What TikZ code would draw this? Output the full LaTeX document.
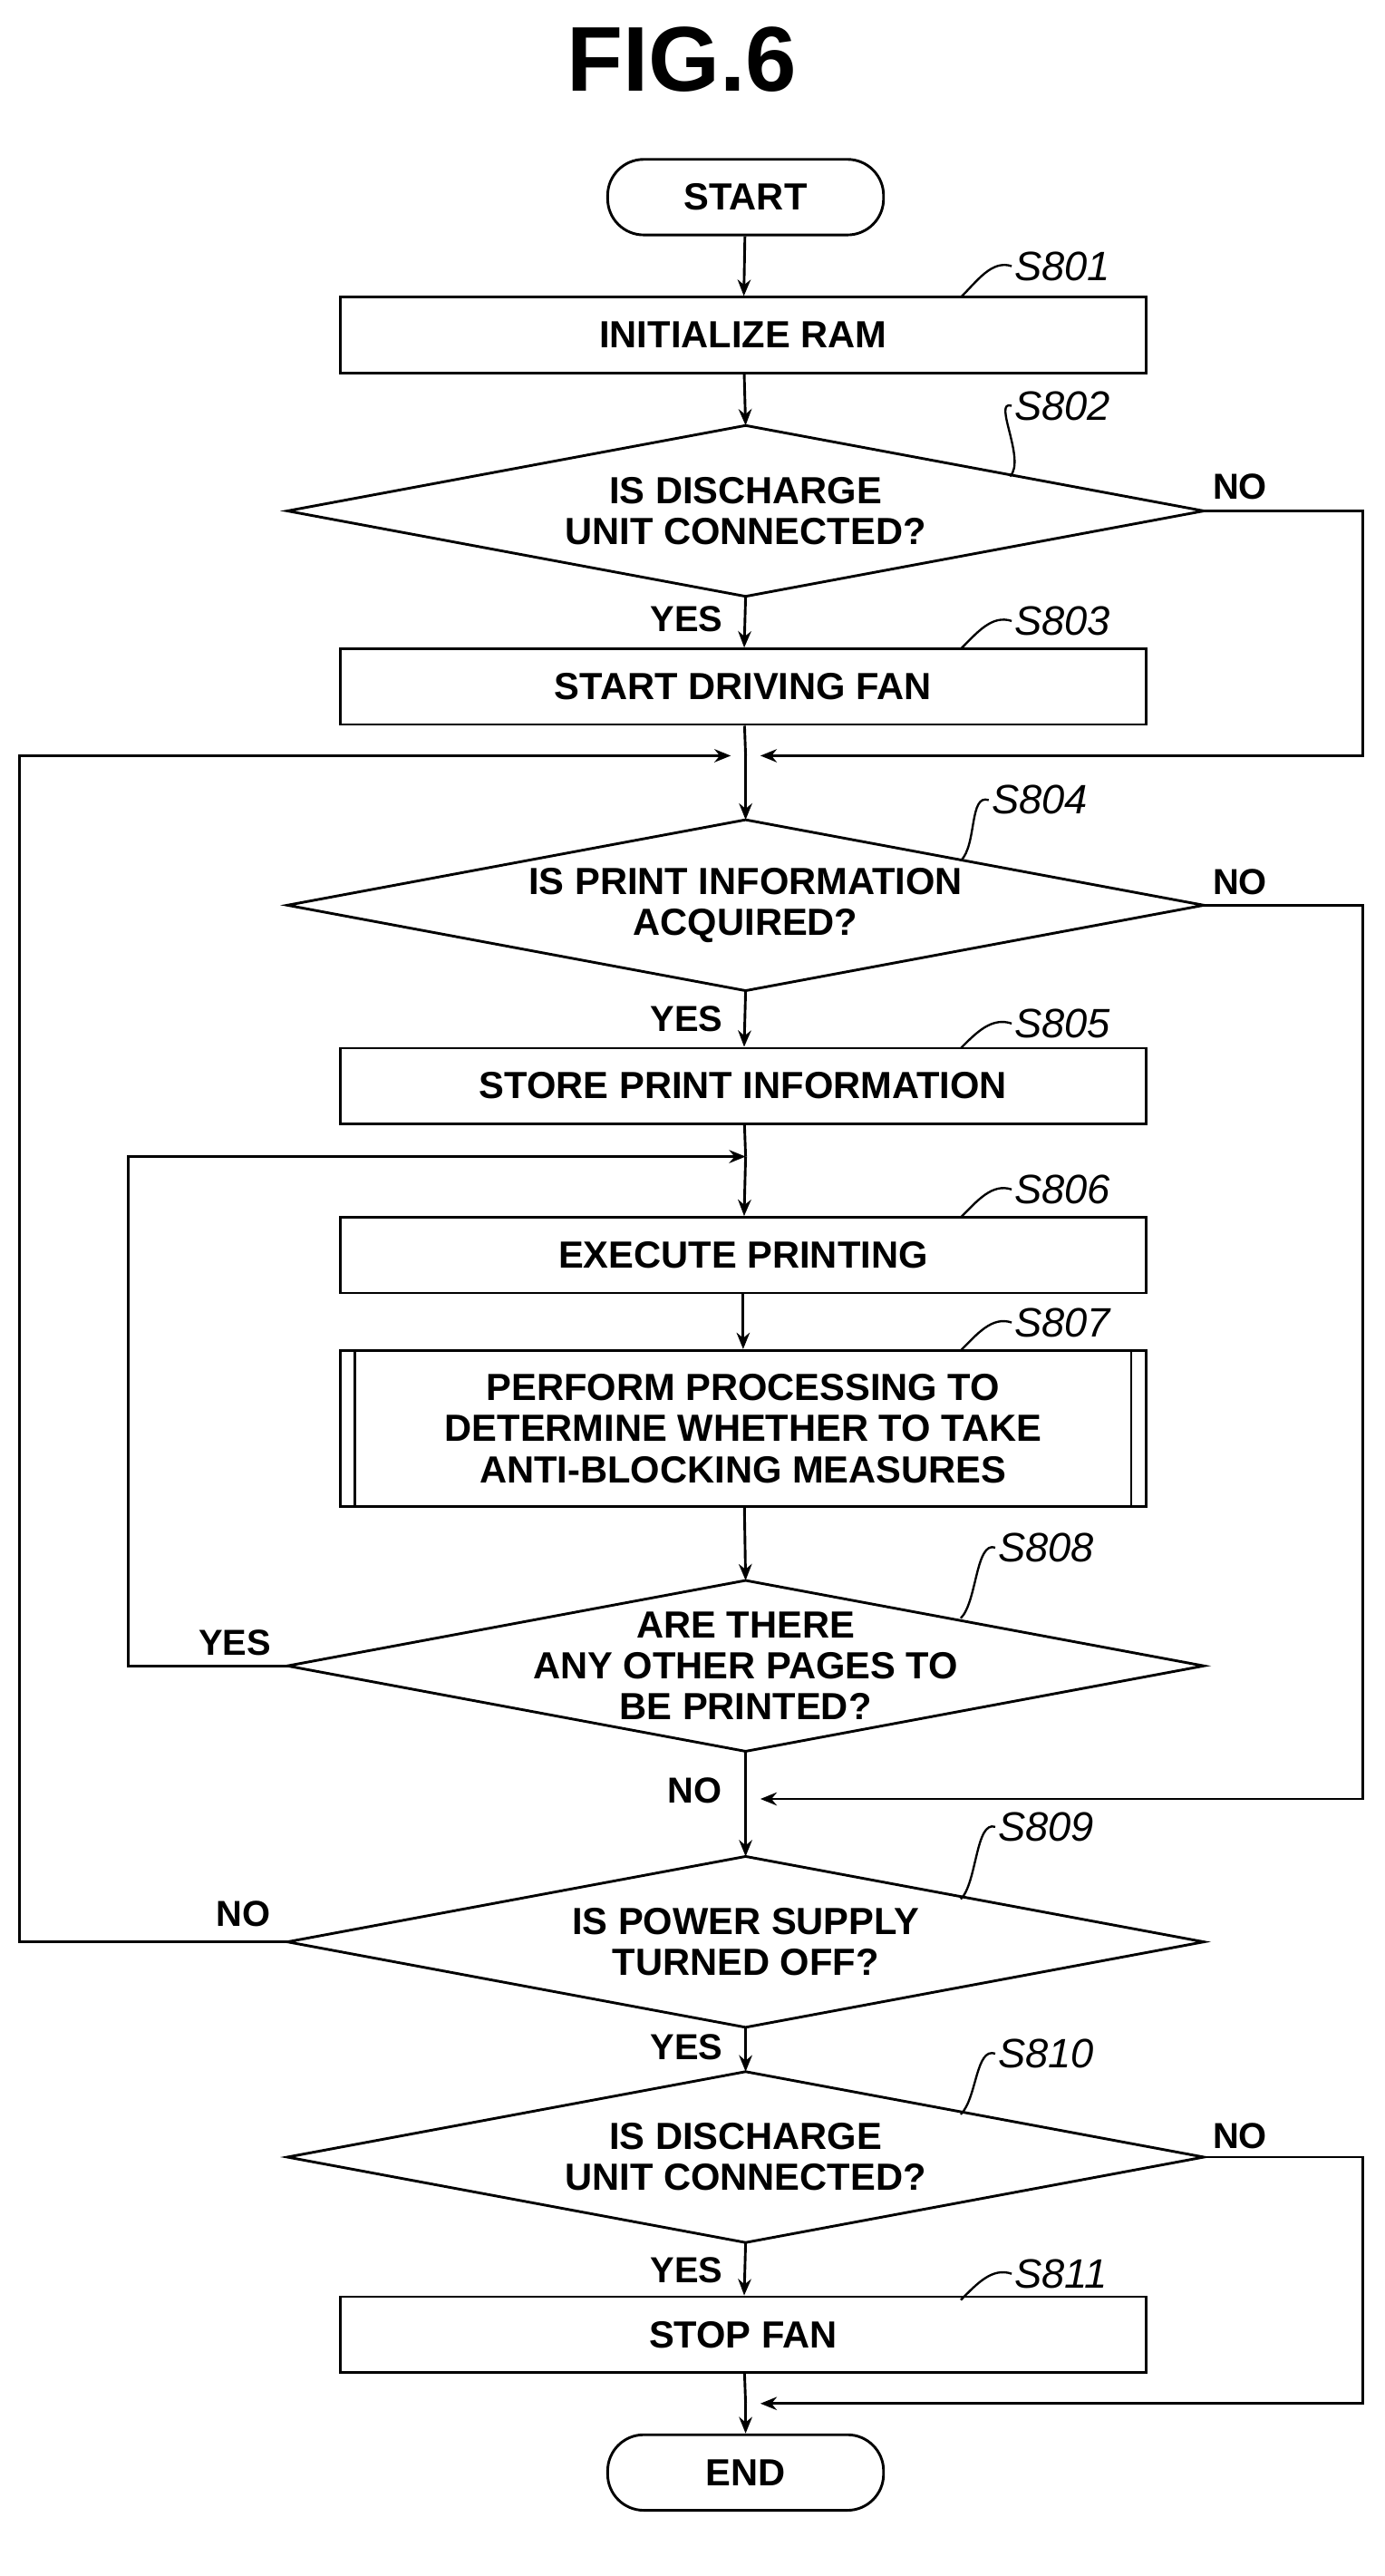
\documentclass[tikz,border=0pt]{standalone}
\usepackage{fontspec}
\setmainfont{Liberation Sans}
\usetikzlibrary{arrows.meta}
\begin{document}
\begin{tikzpicture}[x=1pt,y=-1pt,line width=1.6pt,
  txt/.style={font=\fontsize{23}{25}\selectfont\bfseries,align=center,inner sep=0},
  lab/.style={font=\fontsize{25}{27}\selectfont\itshape,anchor=west,inner sep=1pt},
  yn/.style={font=\fontsize{22}{24}\selectfont\bfseries,inner sep=0},
  arr/.style={-{Stealth[length=10pt,width=8pt]}},
  lead/.style={line width=1.3pt}]
\useasboundingbox (0,0) rectangle (843,1568);
\node[font=\fontsize{56}{60}\selectfont\bfseries] (title) at (415,36) {FIG.6};
% terminals
\node[draw,rounded corners=22pt,minimum width=168pt,minimum height=46pt,txt] (start) at (454,120) {START};
\node[draw,rounded corners=22pt,minimum width=168pt,minimum height=46pt,txt] (end) at (454,1505) {END};
% boxes
\tikzset{box/.style={draw,minimum width=491pt,minimum height=46pt,txt}}
\node[box] (s801) at (452.5,204) {INITIALIZE RAM};
\node[box] (s803) at (452.5,418) {START DRIVING FAN};
\node[box] (s805) at (452.5,661) {STORE PRINT INFORMATION};
\node[box] (s806) at (452.5,764) {EXECUTE PRINTING};
\node[box,minimum height=95pt] (s807) at (452.5,869.5) {PERFORM PROCESSING TO\\DETERMINE WHETHER TO TAKE\\ANTI-BLOCKING MEASURES};
\draw ([xshift=10pt]s807.north west) -- ([xshift=10pt]s807.south west);
\draw ([xshift=-10pt]s807.north east) -- ([xshift=-10pt]s807.south east);
\node[box] (s811) at (452.5,1421) {STOP FAN};
% diamonds
\newcommand{\dmd}[3]{%
  \coordinate (#1t) at (454,#2-52); \coordinate (#1b) at (454,#2+52);
  \coordinate (#1l) at (175,#2); \coordinate (#1r) at (733,#2);
  \draw (#1t) -- (#1r) -- (#1b) -- (#1l) -- cycle;
  \node[txt] (#1) at (454,#2) {#3};}
\dmd{s802}{311}{IS DISCHARGE\\UNIT CONNECTED?}
\dmd{s804}{551}{IS PRINT INFORMATION\\ACQUIRED?}
\dmd{s808}{1014}{ARE THERE\\ANY OTHER PAGES TO\\BE PRINTED?}
\dmd{s809}{1182}{IS POWER SUPPLY\\TURNED OFF?}
\dmd{s810}{1313}{IS DISCHARGE\\UNIT CONNECTED?}
% junction coordinates
\coordinate (j1) at (454,460);
\coordinate (j2) at (454,704);
\coordinate (j3) at (454,1095);
\coordinate (j4) at (454,1463);
% main flow
\draw[arr] (start) -- (s801);
\draw[arr] (s801) -- (s802t);
\draw[arr] (s802b) -- (s803);
\draw (s803) -- (j1);
\draw[arr] (j1) -- (s804t);
\draw[arr] (s804b) -- (s805);
\draw (s805) -- (j2);
\draw[arr] (j2) -- (s806);
\draw[arr] (s806) -- (s807);
\draw[arr] (s807) -- (s808t);
\draw (s808b) -- (j3);
\draw[arr] (j3) -- (s809t);
\draw[arr] (s809b) -- (s810t);
\draw[arr] (s810b) -- (s811);
\draw (s811) -- (j4);
\draw[arr] (j4) -- (end);
% side branches
\draw[arr] (s802r) -- (830,311) -- (830,460) -- ([xshift=9pt]j1);
\draw[arr] (s809l) -- (12,1182) -- (12,460) -- ([xshift=-9pt]j1);
\draw[arr] (s804r) -- (830,551) -- (830,1095) -- ([xshift=9pt]j3);
\draw[arr] (s808l) -- (78,1014) -- (78,704) -- (j2);
\draw[arr] (s810r) -- (830,1313) -- (830,1463) -- ([xshift=9pt]j4);
% yes/no
\node[yn] (n802) at (755,296) {NO};
\node[yn] (y802) at (418,377) {YES};
\node[yn] (n804) at (755,537) {NO};
\node[yn] (y804) at (418,620) {YES};
\node[yn] (y808) at (143,1000) {YES};
\node[yn] (n808) at (423,1090) {NO};
\node[yn] (n809) at (148,1165) {NO};
\node[yn] (y809) at (418,1246) {YES};
\node[yn] (n810) at (755,1300) {NO};
\node[yn] (y810) at (418,1382) {YES};
% step labels
\node[lab] (l801) at (616,162) {S801};
\node[lab] (l802) at (616,247) {S802};
\node[lab] (l803) at (616,378) {S803};
\node[lab] (l804) at (602,487) {S804};
\node[lab] (l805) at (616,623) {S805};
\node[lab] (l806) at (616,724) {S806};
\node[lab] (l807) at (616,805) {S807};
\node[lab] (l808) at (606,942) {S808};
\node[lab] (l809) at (606,1112) {S809};
\node[lab] (l810) at (606,1250) {S810};
\node[lab] (l811) at (616,1384) {S811};
\coordinate (p801) at (585,181);
\coordinate (p802) at (615,290);
\coordinate (p803) at (585,395);
\coordinate (p804) at (585,524);
\coordinate (p805) at (585,638);
\coordinate (p806) at (585,741);
\coordinate (p807) at (585,822);
\coordinate (p808) at (585,985);
\coordinate (p809) at (585,1156);
\coordinate (p810) at (585,1287);
\coordinate (p811) at (585,1400);
\foreach \s in {801,802,803,804,805,806,807,808,809,810,811}
  \draw[lead] (l\s.west) .. controls +(-12,-4) and +(10,-10) .. (p\s);
\end{tikzpicture}
\end{document}
